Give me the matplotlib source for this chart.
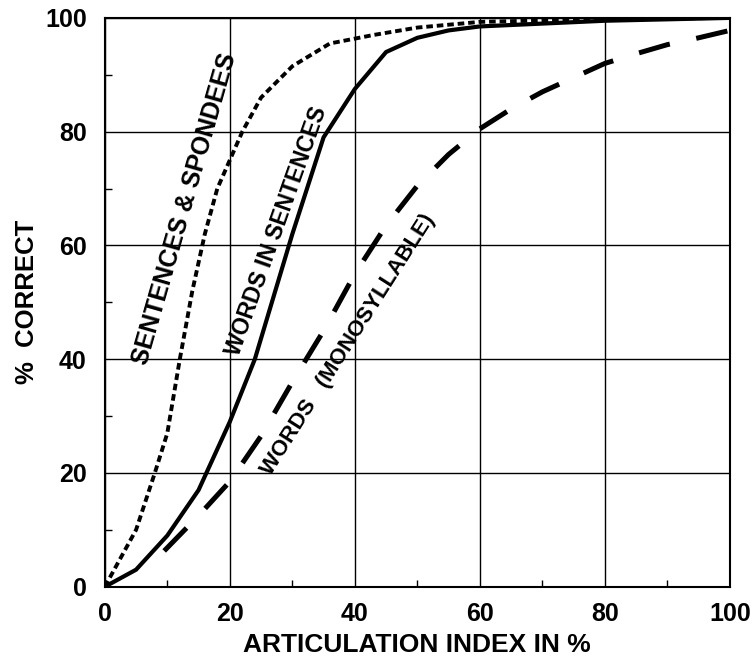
import numpy as np
import matplotlib
matplotlib.use("Agg")
import matplotlib.pyplot as plt

plt.rcParams["font.family"] = ["Liberation Sans", "DejaVu Sans"]
plt.rcParams["font.weight"] = "bold"

# - - - - data - - - -
ai_spondee = [0, 5, 8, 10, 12, 14, 16, 18, 20, 22, 25, 30, 36, 43, 50, 60, 80, 100]
pc_spondee = [0, 10, 20, 27, 40, 52, 62, 70, 75, 80, 86, 91.5, 95.5, 97, 98.3, 99.3, 99.8, 100]

ai_sent = [0, 5, 10, 15, 20, 24, 27, 30, 35, 40, 45, 50, 55, 60, 80, 100]
pc_sent = [0, 3, 9, 17, 29, 40, 51, 62, 79, 87.5, 94, 96.5, 97.8, 98.5, 99.5, 100]

ai_mono = [9.5, 15, 20, 25, 30, 35, 40, 45, 50, 55, 60, 65, 70, 75, 80, 85, 90, 95, 100]
pc_mono = [6.3, 12.5, 18.5, 26.5, 36, 45, 55, 63.5, 70.5, 76, 80.5, 84, 87, 89.5, 92, 93.7, 95.3, 96.5, 97.8]

ticks = [0, 20, 40, 60, 80, 100]

fig = plt.figure(figsize=(7.54, 6.63), dpi=100)
ax = fig.add_axes([0.139, 0.115, 0.829, 0.858])

ax.plot(ai_spondee, pc_spondee, color="black", lw=2.8, linestyle=(0, (1.7, 1.0)),
        dash_capstyle="butt", zorder=3)
ax.plot(ai_sent, pc_sent, color="black", lw=3.0, zorder=3)
ax.plot(ai_mono, pc_mono, color="black", lw=3.6, linestyle=(0, (6.4, 5.4)),
        dash_capstyle="butt", zorder=3)

# curve labels
ax.text(12.8, 66.5, "SENTENCES & SPONDEES", rotation=74, ha="center", va="center",
        fontsize=18, fontweight="bold")
ax.text(27.5, 62.6, "WORDS IN SENTENCES", rotation=70.5, ha="center", va="center",
        fontsize=16.5, fontweight="bold")
ax.text(38.9, 42.5, "WORDS   (MONOSYLLABLE)", rotation=57.5, ha="center", va="center",
        fontsize=16, fontweight="bold")

# axes
ax.set_xlim(0, 100)
ax.set_ylim(0, 100)
ax.set_xticks(ticks)
ax.set_yticks(ticks)
ax.set_xticks(range(10, 100, 20), minor=True)
ax.set_yticks(range(10, 100, 20), minor=True)
ax.tick_params(which="major", length=0, labelsize=18)
ax.tick_params(axis="x", which="major", pad=11)
ax.tick_params(axis="y", which="major", pad=13)
ax.tick_params(which="minor", direction="in", length=5, width=1, colors="black")
for lbl in ax.get_xticklabels() + ax.get_yticklabels():
    lbl.set_fontweight("bold")

ax.grid(True, which="major", color="black", lw=1.0)
for s in ax.spines.values():
    s.set_linewidth(1.5)

ax.set_xlabel("ARTICULATION INDEX IN %", fontsize=19, fontweight="bold", labelpad=5)
ax.set_ylabel("%  CORRECT", fontsize=18.5, fontweight="bold", labelpad=4)

fig.savefig("out.png", dpi=100)
